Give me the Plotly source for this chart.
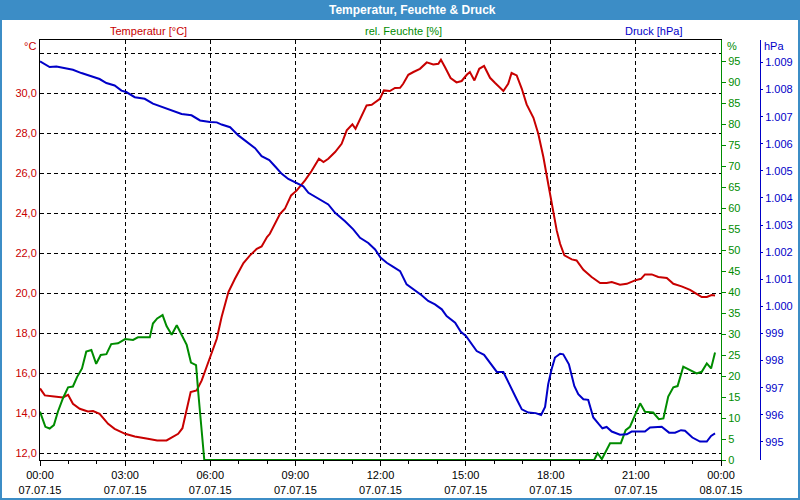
import plotly.graph_objects as go

# ---------------- data ----------------
temp_hours = [0, 0.17, 0.5, 0.81, 0.99, 1.16, 1.4, 1.69, 1.87, 2.1,
              2.4, 2.63, 3.0, 3.34, 3.8, 4.13, 4.46, 4.64, 4.87, 5.02,
              5.17, 5.31, 5.52, 5.7, 5.87, 6.05, 6.23, 6.4, 6.64, 6.87,
              7.17, 7.4, 7.64, 7.81, 8.0, 8.1, 8.46, 8.63, 8.85, 9.05,
              9.34, 9.57, 9.83, 9.99, 10.16, 10.4, 10.63, 10.81, 11.01, 11.12,
              11.28, 11.51, 11.69, 11.98, 12.12, 12.33, 12.51, 12.69, 12.8, 12.98,
              13.16, 13.39, 13.63, 13.86, 14.04, 14.13, 14.27, 14.47, 14.68, 14.86,
              15.04, 15.15, 15.31, 15.48, 15.65, 15.86, 16.04, 16.19, 16.33, 16.5,
              16.62, 16.8, 16.98, 17.15, 17.39, 17.56, 17.74, 17.91, 18.09, 18.21,
              18.33, 18.48, 18.74, 18.91, 19.15, 19.44, 19.74, 19.97, 20.15, 20.44,
              20.68, 20.97, 21.18, 21.32, 21.56, 21.79, 22.09, 22.32, 22.61, 22.91,
              23.14, 23.32, 23.5, 23.67, 23.79]
temperature = [15.25, 14.9, 14.85, 14.8, 14.93, 14.48, 14.23, 14.1, 14.12, 13.98,
               13.48, 13.23, 12.98, 12.85, 12.73, 12.65, 12.65, 12.78, 12.98, 13.26,
               14.15, 15.07, 15.15, 15.65, 16.32, 16.98, 17.73, 18.82, 20.07, 20.73,
               21.52, 21.9, 22.23, 22.35, 22.82, 22.98, 23.98, 24.23, 24.9, 25.15,
               25.65, 26.12, 26.73, 26.57, 26.73, 27.07, 27.48, 28.15, 28.45, 28.23,
               28.73, 29.4, 29.43, 29.73, 30.15, 30.12, 30.27, 30.28, 30.48, 30.93,
               31.07, 31.23, 31.55, 31.45, 31.48, 31.68, 31.32, 30.77, 30.55, 30.62,
               30.93, 31.07, 30.65, 31.23, 31.37, 30.78, 30.52, 30.32, 30.12, 30.48,
               31.02, 30.9, 30.23, 29.45, 28.78, 27.98, 26.82, 25.48, 24.15, 23.15,
               22.48, 21.9, 21.7, 21.65, 21.18, 20.82, 20.52, 20.52, 20.57, 20.43,
               20.48, 20.65, 20.73, 20.95, 20.95, 20.82, 20.77, 20.48, 20.35, 20.18,
               19.98, 19.82, 19.82, 19.92, 19.9]

hum_hours = [0, 0.19, 0.34, 0.49, 0.63, 0.81, 0.99, 1.16, 1.31, 1.48,
             1.63, 1.81, 1.98, 2.14, 2.34, 2.51, 2.75, 3.0, 3.28, 3.45,
             3.87, 3.98, 4.13, 4.32, 4.46, 4.64, 4.82, 4.99, 5.17, 5.32,
             5.5, 5.58, 5.7, 5.79,
             19.53, 19.65, 19.8, 20.09, 20.47, 20.64,
             20.79, 20.99, 21.15, 21.32, 21.61, 21.81, 21.97, 22.14, 22.32, 22.47,
             22.67, 22.79, 22.99, 23.14, 23.32, 23.5, 23.65, 23.79]
humidity = [11.5, 7.9, 7.5, 8.3, 11.5, 14.7, 17.3, 17.5, 19.8, 21.8,
            25.8, 26.2, 22.9, 25.0, 25.2, 27.6, 27.8, 28.8, 28.6, 29.2,
            29.2, 32.5, 33.7, 34.5, 31.9, 29.8, 32.1, 29.8, 27.4, 23.2,
            22.6, 15.9, 6.4, 0,
            0, 1.6, 0.2, 4.0, 4.0, 7.1,
            7.9, 11.1, 13.5, 11.5, 11.3, 9.7, 9.9, 15.1, 17.3, 17.6,
            22.2, 21.8, 21.0, 20.6, 21.0, 23.0, 21.8, 25.6]

pres_hours = [0, 0.34, 0.58, 0.87, 1.16, 1.46, 1.81, 2.1, 2.34, 2.63,
              2.87, 3.04, 3.34, 3.69, 3.98, 4.23, 4.58, 4.99, 5.34, 5.64,
              5.99, 6.23, 6.4, 6.7, 6.99, 7.28, 7.58, 7.81, 8.08, 8.28,
              8.52, 8.75, 9.05, 9.28, 9.46, 9.81, 10.16, 10.4, 10.75, 11.04,
              11.28, 11.57, 11.81, 12.0, 12.22, 12.45, 12.69, 12.92, 13.16, 13.45,
              13.68, 13.92, 14.16, 14.33, 14.63, 14.83, 15.01, 15.18, 15.39, 15.65,
              15.86, 16.1, 16.33, 16.56, 16.8, 16.98, 17.21, 17.47, 17.66, 17.8,
              17.91, 18.03, 18.15, 18.33, 18.44, 18.64, 18.83, 18.97, 19.15, 19.32,
              19.5, 19.68, 19.82, 19.97, 20.15, 20.44, 20.68, 20.85, 21.32, 21.5,
              21.91, 22.17, 22.38, 22.59, 22.73, 22.99, 23.26, 23.5, 23.65, 23.79]
pressure = [1009.04, 1008.83, 1008.85, 1008.79, 1008.73, 1008.61, 1008.49, 1008.39, 1008.24, 1008.15,
            1007.96, 1007.91, 1007.72, 1007.66, 1007.48, 1007.38, 1007.26, 1007.10, 1007.05, 1006.86,
            1006.80, 1006.79, 1006.71, 1006.61, 1006.31, 1006.09, 1005.84, 1005.54, 1005.40, 1005.17,
            1004.89, 1004.70, 1004.53, 1004.43, 1004.19, 1003.98, 1003.76, 1003.45, 1003.14, 1002.84,
            1002.53, 1002.34, 1002.10, 1001.80, 1001.61, 1001.46, 1001.30, 1000.81, 1000.63, 1000.41,
            1000.20, 1000.07, 999.89, 999.64, 999.40, 999.06, 998.91, 998.66, 998.35, 998.21,
            997.92, 997.58, 997.58, 997.06, 996.57, 996.20, 996.08, 996.06, 995.99, 996.29,
            997.13, 997.68, 998.11, 998.25, 998.23, 997.86, 997.06, 996.76, 996.57, 996.55,
            995.90, 995.67, 995.50, 995.55, 995.38, 995.26, 995.28, 995.38, 995.38, 995.53,
            995.56, 995.34, 995.34, 995.43, 995.41, 995.16, 995.01, 995.01, 995.22, 995.31]

x_tickvals = [0, 3, 6, 9, 12, 15, 18, 21, 24]
x_ticktext = ["00:00<br>07.07.15", "03:00<br>07.07.15", "06:00<br>07.07.15",
              "09:00<br>07.07.15", "12:00<br>07.07.15", "15:00<br>07.07.15",
              "18:00<br>07.07.15", "21:00<br>07.07.15", "00:00<br>08.07.15"]
temp_tickvals = [12, 14, 16, 18, 20, 22, 24, 26, 28, 30, 32]
temp_ticktext = ["12,0", "14,0", "16,0", "18,0", "20,0", "22,0", "24,0",
                 "26,0", "28,0", "30,0", ""]
hum_tickvals = list(range(0, 100, 5))
pres_tickvals = list(range(995, 1010))
pres_ticktext = ["995", "996", "997", "998", "999", "1.000", "1.001", "1.002",
                 "1.003", "1.004", "1.005", "1.006", "1.007", "1.008", "1.009"]

# ---------------- styling ----------------
W, H = 800, 500
ML, MR, MT, MB = 40, 30, 40, 40
PW, PH = W - ML - MR, H - MT - MB
RED, GREEN, BLUE = "#C80000", "#008C00", "#0000C8"
FRAME_BLUE = "#3C8DC6"
FONT = "Liberation Sans"


def px(x):
    return (x - ML) / PW


def py(y):
    return (H - MB - y) / PH


fig = go.Figure()
fig.add_trace(go.Scatter(x=temp_hours, y=temperature, mode="lines",
                         line=dict(color=RED, width=2), yaxis="y", showlegend=False))
fig.add_trace(go.Scatter(x=hum_hours, y=humidity, mode="lines",
                         line=dict(color=GREEN, width=2), yaxis="y2", showlegend=False))
fig.add_trace(go.Scatter(x=pres_hours, y=pressure, mode="lines",
                         line=dict(color=BLUE, width=2), yaxis="y3", showlegend=False))

dash = "4px,3px"
fig.update_layout(
    width=W, height=H,
    margin=dict(l=ML, r=MR, t=MT, b=MB, pad=0, autoexpand=False),
    paper_bgcolor="white", plot_bgcolor="white",
    font=dict(family=FONT, size=11, color="black"),
    xaxis=dict(domain=[0, px(721)], range=[0, 24], tickmode="array",
               tickvals=x_tickvals, ticktext=x_ticktext, automargin=False,
               showgrid=True, gridcolor="black", gridwidth=1, griddash=dash,
               showline=True, linecolor="black", linewidth=1, mirror=True,
               ticks="outside", ticklen=5, tickcolor="black",
               minor=dict(tickmode="array", tickvals=list(range(25)), ticks="outside",
                          ticklen=3, tickcolor="black", showgrid=False),
               zeroline=False, tickfont=dict(size=11, color="black"), fixedrange=True),
    yaxis=dict(range=[11.67, 32.67], tickmode="array", tickvals=temp_tickvals,
               ticktext=temp_ticktext, showgrid=True, gridcolor="black", gridwidth=1,
               griddash=dash, showline=True, linecolor="black", linewidth=1,
               automargin=False, ticks="", zeroline=False,
               tickfont=dict(size=11, color=RED)),
    yaxis2=dict(range=[0, 100], overlaying="y", side="right", anchor="x",
                tickmode="array", tickvals=hum_tickvals, showgrid=False,
                automargin=False,
                showline=True, linecolor=GREEN, linewidth=1, ticks="outside",
                ticklen=4, tickcolor=GREEN, zeroline=False,
                tickfont=dict(size=11, color=GREEN)),
    yaxis3=dict(range=[994.33, 1009.83], overlaying="y", side="right", anchor="free",
                position=px(760), tickmode="array", tickvals=pres_tickvals,
                ticktext=pres_ticktext, showgrid=False, showline=True,
                automargin=False,
                linecolor=BLUE, linewidth=1, ticks="outside", ticklen=2,
                tickcolor=BLUE, zeroline=False, tickfont=dict(size=11, color=BLUE)),
)

shapes = [
    dict(type="rect", xref="paper", yref="paper", x0=px(0), x1=px(800), y0=py(0), y1=py(20),
         fillcolor=FRAME_BLUE, line=dict(width=0), layer="above"),
    dict(type="rect", xref="paper", yref="paper", x0=px(1), x1=px(799), y0=py(1), y1=py(499),
         fillcolor="rgba(0,0,0,0)", line=dict(color=FRAME_BLUE, width=2), layer="above"),
]
fig.update_layout(shapes=shapes)

annotations = [
    dict(text="<b>Temperatur, Feuchte & Druck</b>", x=px(413), y=py(10), xref="paper",
         yref="paper", xanchor="center", yanchor="middle", showarrow=False,
         font=dict(family=FONT, size=12, color="white")),
    dict(text="Temperatur [°C]", x=px(148), y=py(31), xref="paper", yref="paper",
         xanchor="center", yanchor="middle", showarrow=False, font=dict(color=RED, size=11)),
    dict(text="rel. Feuchte [%]", x=px(403), y=py(31), xref="paper", yref="paper",
         xanchor="center", yanchor="middle", showarrow=False, font=dict(color=GREEN, size=11)),
    dict(text="Druck [hPa]", x=px(653), y=py(31), xref="paper", yref="paper",
         xanchor="center", yanchor="middle", showarrow=False, font=dict(color=BLUE, size=11)),
    dict(text="°C", x=px(38), y=py(46), xref="paper", yref="paper",
         xanchor="right", yanchor="middle", showarrow=False, font=dict(color=RED, size=11)),
    dict(text="%", x=px(725), y=py(46), xref="paper", yref="paper",
         xanchor="left", yanchor="middle", showarrow=False, font=dict(color=GREEN, size=11)),
    dict(text="hPa", x=px(762), y=py(46), xref="paper", yref="paper",
         xanchor="left", yanchor="middle", showarrow=False, font=dict(color=BLUE, size=11)),
]
fig.update_layout(annotations=annotations)

fig.write_html(
    "out.html",
    config={"displayModeBar": False},
    post_script="document.body.style.margin='0';document.body.style.overflow='hidden';",
)
